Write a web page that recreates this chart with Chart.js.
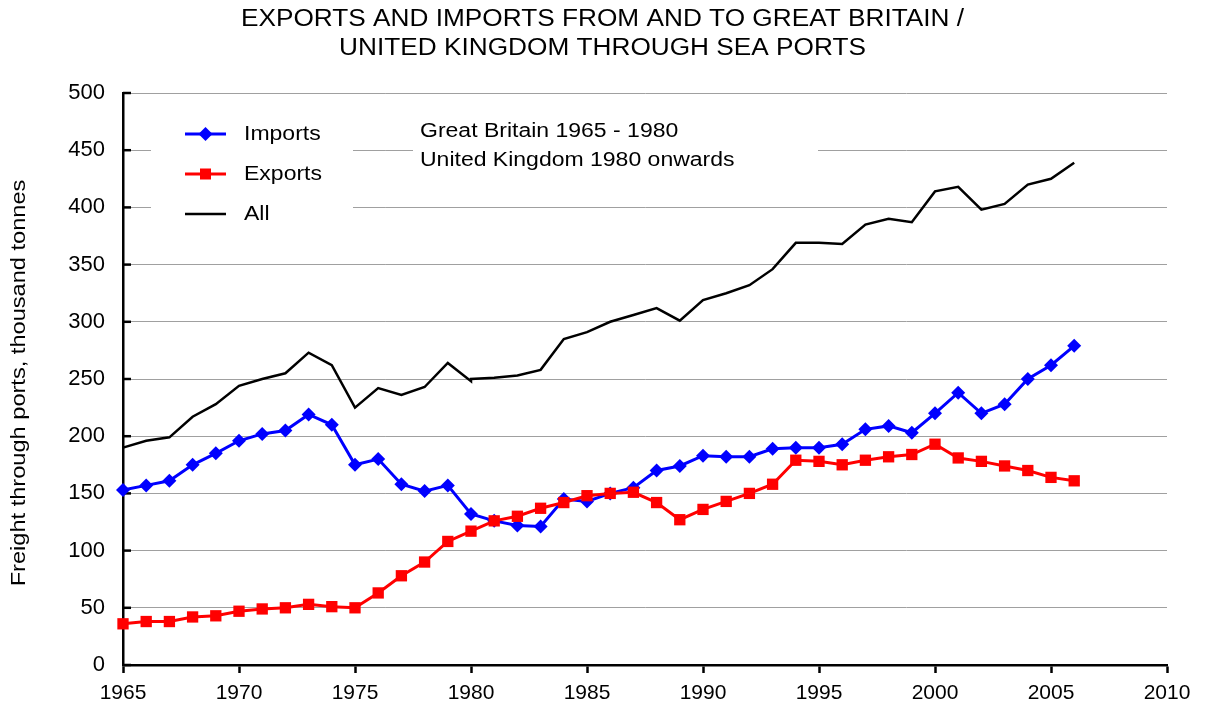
<!DOCTYPE html>
<html>
<head>
<meta charset="utf-8">
<script src="https://cdn.jsdelivr.net/npm/chart.js@4.4.1/dist/chart.umd.min.js"></script>
<style>
  html, body { margin: 0; padding: 0; background: #fff; }
  canvas { display: block; }
</style>
</head>
<body>
<canvas id="freightChart" width="1205" height="713"></canvas>
<script>
const years = [1965, 1966, 1967, 1968, 1969, 1970, 1971, 1972, 1973, 1974,
  1975, 1976, 1977, 1978, 1979, 1980, 1981, 1982, 1983, 1984,
  1985, 1986, 1987, 1988, 1989, 1990, 1991, 1992, 1993, 1994,
  1995, 1996, 1997, 1998, 1999, 2000, 2001, 2002, 2003, 2004,
  2005, 2006];

const importValues = [153, 157, 161, 175, 185, 196, 202, 205, 219, 210,
  175, 180, 158, 152, 157, 132, 126, 122, 121, 145,
  143, 150, 155, 170, 174, 183, 182, 182, 189, 190,
  190, 193, 206, 209, 203, 220, 238, 220, 228, 250,
  262, 279];

const exportValues = [36, 38, 38, 42, 43, 47, 49, 50, 53, 51,
  50, 63, 78, 90, 108, 117, 126, 130, 137, 142,
  148, 150, 151, 142, 127, 136, 143, 150, 158, 179,
  178, 175, 179, 182, 184, 193, 181, 178, 174, 170,
  164, 161];

// "All" has two values for 1980: Great Britain up to 1980, United Kingdom from 1980
const allGreatBritain = [190, 196, 199, 217, 228, 244, 250, 255, 273, 262,
  225, 242, 236, 243, 264, 248];
const allUnitedKingdom = [250, 251, 253, 258, 285, 291, 300, 306, 312, 301,
  319, 325, 332, 346, 369, 369, 368, 385, 390, 387,
  414, 418, 398, 403, 420, 425, 439];

const titleLines = ["EXPORTS AND IMPORTS FROM AND TO GREAT BRITAIN /",
  "UNITED KINGDOM THROUGH SEA PORTS"];
const noteLines = ["Great Britain 1965 - 1980", "United Kingdom 1980 onwards"];
const yAxisTitle = "Freight through ports, thousand tonnes";

const FONT = '"Liberation Sans", Arial, sans-serif';

const toPoints = (xs, ys) => xs.map((x, i) => ({ x: x, y: ys[i] }));
const allPoints = toPoints(years.slice(0, 16), allGreatBritain)
  .concat(toPoints(years.slice(15), allUnitedKingdom));

// the reference text is a little wider than plain Arial, so squeeze/stretch it
function stretchedText(ctx, text, x, y, size, sx, align) {
  ctx.save();
  ctx.translate(x, y);
  ctx.scale(sx, 1);
  ctx.font = size + "px " + FONT;
  ctx.fillStyle = "#000";
  ctx.textAlign = align || "left";
  ctx.textBaseline = "middle";
  ctx.fillText(text, 0, 0);
  ctx.restore();
}

const overlayPlugin = {
  id: "overlay",
  beforeDatasetsDraw(chart) {
    const ctx = chart.ctx;
    const yScale = chart.scales.y;

    // white boxes behind legend and note hide the gridlines
    ctx.save();
    ctx.fillStyle = "#fff";
    ctx.fillRect(151, 112, 202, 122);
    ctx.fillRect(413, 112, 405, 76);
    ctx.restore();

    // y ticks point into the plot
    ctx.save();
    ctx.strokeStyle = "#000";
    ctx.lineWidth = 2.5;
    yScale.ticks.forEach((t) => {
      const py = yScale.getPixelForValue(t.value);
      ctx.beginPath();
      ctx.moveTo(yScale.right, py);
      ctx.lineTo(yScale.right + 8, py);
      ctx.stroke();
    });
    ctx.restore();
  },
  afterDraw(chart) {
    const ctx = chart.ctx;

    // title
    stretchedText(ctx, titleLines[0], chart.width / 2, 20, 23, 1.14, "center");
    stretchedText(ctx, titleLines[1], chart.width / 2, 49, 23, 1.14, "center");

    // legend
    const items = chart.data.datasets;
    items.forEach((ds, i) => {
      const y = 134 + i * 40;
      ctx.save();
      ctx.strokeStyle = ds.borderColor;
      ctx.lineWidth = ds.borderWidth;
      ctx.beginPath();
      ctx.moveTo(185, y);
      ctx.lineTo(226, y);
      ctx.stroke();
      ctx.fillStyle = ds.borderColor;
      if (ds.pointStyle === "rectRot") {
        ctx.beginPath();
        ctx.moveTo(205.5, y - 7);
        ctx.lineTo(212.5, y);
        ctx.lineTo(205.5, y + 7);
        ctx.lineTo(198.5, y);
        ctx.closePath();
        ctx.fill();
      } else if (ds.pointStyle === "rect") {
        ctx.fillRect(200, y - 5.5, 11, 11);
      }
      ctx.restore();
      stretchedText(ctx, ds.label, 244, y, 20, 1.15);
    });

    // note
    stretchedText(ctx, noteLines[0], 420, 131, 20, 1.15);
    stretchedText(ctx, noteLines[1], 420, 160, 20, 1.15);

    // y axis title
    ctx.save();
    ctx.translate(19, 383);
    ctx.rotate(-Math.PI / 2);
    stretchedText(ctx, yAxisTitle, 0, 0, 20, 1.18, "center");
    ctx.restore();
  }
};

new Chart(document.getElementById("freightChart"), {
  type: "line",
  data: {
    datasets: [
      {
        label: "Imports",
        data: toPoints(years, importValues),
        borderColor: "#0000ff",
        backgroundColor: "#0000ff",
        borderWidth: 3,
        pointStyle: "rectRot",
        pointRadius: 7,
        pointBorderWidth: 0,
        order: 2,
        clip: false
      },
      {
        label: "Exports",
        data: toPoints(years, exportValues),
        borderColor: "#ff0000",
        backgroundColor: "#ff0000",
        borderWidth: 3,
        pointStyle: "rect",
        pointRadius: 8,
        pointBorderWidth: 0,
        order: 1,
        clip: false
      },
      {
        label: "All",
        data: allPoints,
        borderColor: "#000000",
        backgroundColor: "#000000",
        borderWidth: 2.5,
        pointRadius: 0,
        order: 3,
        clip: false
      }
    ]
  },
  options: {
    responsive: false,
    animation: false,
    events: [],
    layout: { padding: { top: 93, right: 38, bottom: 0, left: 0 } },
    plugins: {
      legend: { display: false },
      tooltip: { enabled: false },
      title: { display: false }
    },
    scales: {
      x: {
        type: "linear",
        min: 1965,
        max: 2010,
        afterFit: (scale) => { scale.height = 48; },
        border: { display: true, color: "#000", width: 2.5 },
        grid: {
          drawOnChartArea: false,
          drawTicks: true,
          tickLength: 8,
          tickColor: "#000",
          tickWidth: 2.5
        },
        ticks: {
          stepSize: 5,
          autoSkip: false,
          maxRotation: 0,
          padding: 8,
          color: "#000",
          font: { family: FONT, size: 21 },
          callback: (value) => String(value)
        }
      },
      y: {
        min: 0,
        max: 500,
        afterFit: (scale) => { scale.width = 123; },
        border: { display: true, color: "#000", width: 2.5 },
        grid: {
          color: "#a0a0a0",
          lineWidth: 1,
          drawTicks: false
        },
        ticks: {
          stepSize: 50,
          padding: 18,
          color: "#000",
          font: { family: FONT, size: 22 }
        }
      }
    }
  },
  plugins: [overlayPlugin]
});
</script>
</body>
</html>
